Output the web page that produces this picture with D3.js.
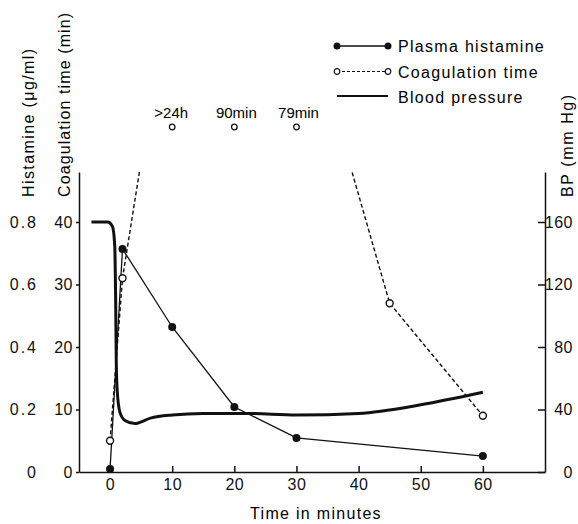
<!DOCTYPE html>
<html>
<head>
<meta charset="utf-8">
<script src="https://cdn.jsdelivr.net/npm/d3@7"></script>
<style>
  body { margin: 0; background: #fff; }
  svg { font-family: "Liberation Sans", Arial, sans-serif; }
  .axis path, .axis line { stroke: #111; stroke-width: 1.5; }
  .axis text { font-size: 16px; fill: #111; letter-spacing: 0.5px; }
</style>
</head>
<body>
<script>
'use strict'

// time points (min)
const histTime = [0, 2, 10, 20, 30, 60]
const histValue = [0.01, 0.714, 0.464, 0.208, 0.109, 0.051]

// coagulation time (min); 10-30 min are off scale, line just heads off the top
const coagTime = [0, 2, 10, 20, 30, 45, 60]
const coagValue = [5, 31, 81, 90, 79, 27, 9]
const coagShown = [true, true, false, false, false, true, true]
const offScaleTime = [10, 20, 30]
const offScaleLabel = ['>24h', '90min', '79min']

// blood pressure trace (mm Hg)
const bpTime = [-3, -0.4, 0.4, 0.75, 0.9, 1.0, 1.15, 1.6, 2.4, 4.0, 6.5, 10, 15, 22, 30, 40, 50, 60]
const bpValue = [160, 160, 157, 145, 110, 70, 52, 38, 33, 31, 34.5, 36.5, 37.5, 37.5, 36.5, 37.5, 43, 51]

const xTicks = [0, 10, 20, 30, 40, 50, 60]
const coagTicks = [0, 10, 20, 30, 40]
const histTicks = [0, 0.2, 0.4, 0.6, 0.8]
const bpTicks = [0, 40, 80, 120, 160]

const legendNames = ['Plasma histamine', 'Coagulation time', 'Blood pressure']

const width = 578
const height = 524

const svg = d3.select('body').append('svg')
  .attr('width', width)
  .attr('height', height)

const x = d3.scaleLinear().domain([-5, 70]).range([79, 545])
const yCoag = d3.scaleLinear().domain([0, 48]).range([472, 172])
const yHist = d3.scaleLinear().domain([0, 0.96]).range([472, 172])
const yBP = d3.scaleLinear().domain([0, 192]).range([472, 172])

svg.append('clipPath').attr('id', 'plot')
  .append('rect')
  .attr('x', 79).attr('y', 172)
  .attr('width', 466).attr('height', 300)

// axes
svg.append('g').attr('class', 'axis')
  .attr('transform', 'translate(0,472)')
  .call(d3.axisBottom(x).tickValues(xTicks).tickSizeInner(-6).tickSizeOuter(0).tickPadding(7))

svg.append('g').attr('class', 'axis')
  .attr('transform', 'translate(79,0)')
  .call(d3.axisLeft(yCoag).tickValues(coagTicks).tickSizeInner(3).tickSizeOuter(0).tickPadding(3))

const histAxis = svg.append('g').attr('class', 'axis')
  .attr('transform', 'translate(38,0)')
  .call(d3.axisLeft(yHist).tickValues(histTicks).tickSize(0).tickPadding(0)
    .tickFormat(d => d === 0 ? '0' : d3.format('.1f')(d)))
histAxis.select('.domain').remove()
histAxis.selectAll('text').style('letter-spacing', '2px')

const bpAxis = svg.append('g').attr('class', 'axis')
  .attr('transform', 'translate(545,0)')
  .call(d3.axisRight(yBP).tickValues(bpTicks).tickSizeInner(-7).tickSizeOuter(0))
bpAxis.selectAll('text').attr('text-anchor', 'end').attr('x', 28)

// axis titles
function vLabel (text, px, py, spacing) {
  svg.append('text')
    .attr('transform', 'translate(' + px + ',' + py + ') rotate(-90)')
    .attr('font-size', 16)
    .style('letter-spacing', spacing + 'px')
    .text(text)
}
vLabel('Histamine (μg/ml)', 34, 197, 1.4)
vLabel('Coagulation time (min)', 70, 197, 1.1)
vLabel('BP (mm Hg)', 573, 197, 1.6)

svg.append('text')
  .attr('x', 316).attr('y', 519)
  .attr('text-anchor', 'middle')
  .attr('font-size', 16)
  .style('letter-spacing', '1.3px')
  .text('Time in minutes')

const plot = svg.append('g').attr('clip-path', 'url(#plot)')

// blood pressure
const bpData = bpTime.map((t, i) => [t, bpValue[i]])
plot.append('path')
  .datum(bpData)
  .attr('fill', 'none')
  .attr('stroke', '#111')
  .attr('stroke-width', 3)
  .attr('d', d3.line().x(d => x(d[0])).y(d => yBP(d[1])).curve(d3.curveMonotoneX))

// coagulation
const coagData = coagTime.map((t, i) => ({ t: t, v: coagValue[i], shown: coagShown[i] }))
plot.append('path')
  .datum(coagData)
  .attr('fill', 'none')
  .attr('stroke', '#111')
  .attr('stroke-width', 1.4)
  .attr('stroke-dasharray', '4,2.5')
  .attr('d', d3.line().x(d => x(d.t)).y(d => yCoag(d.v)))

// histamine
const histData = histTime.map((t, i) => [t, histValue[i]])
plot.append('path')
  .datum(histData)
  .attr('fill', 'none')
  .attr('stroke', '#111')
  .attr('stroke-width', 1.3)
  .attr('d', d3.line().x(d => x(d[0])).y(d => yHist(d[1])))

svg.selectAll('circle.hist')
  .data(histData)
  .enter().append('circle')
  .attr('class', 'hist')
  .attr('cx', d => x(d[0]))
  .attr('cy', d => yHist(d[1]))
  .attr('r', 4)
  .attr('fill', '#111')

svg.selectAll('circle.coag')
  .data(coagData.filter(d => d.shown))
  .enter().append('circle')
  .attr('class', 'coag')
  .attr('cx', d => x(d.t))
  .attr('cy', d => yCoag(d.v))
  .attr('r', 3.5)
  .attr('fill', '#fff')
  .attr('stroke', '#111')
  .attr('stroke-width', 1.4)

// off-scale coagulation values
const off = svg.selectAll('g.off')
  .data(offScaleTime)
  .enter().append('g')
  .attr('class', 'off')
  .attr('transform', d => 'translate(' + x(d) + ',0)')
off.append('circle')
  .attr('cy', 127).attr('r', 2.8)
  .attr('fill', '#fff').attr('stroke', '#111').attr('stroke-width', 1.3)
off.append('text')
  .attr('y', 118)
  .attr('x', (d, i) => i === 0 ? -1 : 2)
  .attr('text-anchor', 'middle')
  .attr('font-size', 15)
  .text((d, i) => offScaleLabel[i])

// legend
const legend = svg.append('g').attr('transform', 'translate(337,46)')
legendNames.forEach(function (name, i) {
  const row = legend.append('g').attr('transform', 'translate(0,' + (i * 25.5) + ')')
  const line = row.append('line')
    .attr('x1', 0).attr('x2', 51)
    .attr('stroke', '#111')
  if (i === 0) {
    line.attr('stroke-width', 1.5)
    row.selectAll('circle').data([0, 51]).enter().append('circle')
      .attr('cx', d => d).attr('r', 3.5).attr('fill', '#111')
  } else if (i === 1) {
    line.attr('stroke-width', 1.2).attr('stroke-dasharray', '3,2')
    row.selectAll('circle').data([0, 51]).enter().append('circle')
      .attr('cx', d => d).attr('r', 2.8).attr('fill', '#fff')
      .attr('stroke', '#111').attr('stroke-width', 1.2)
  } else {
    line.attr('stroke-width', 2.2).attr('y1', -1).attr('y2', -1)
  }
  row.append('text')
    .attr('x', 61).attr('y', 6)
    .attr('font-size', 16)
    .style('letter-spacing', '1.3px')
    .text(name)
})
</script>
</body>
</html>
